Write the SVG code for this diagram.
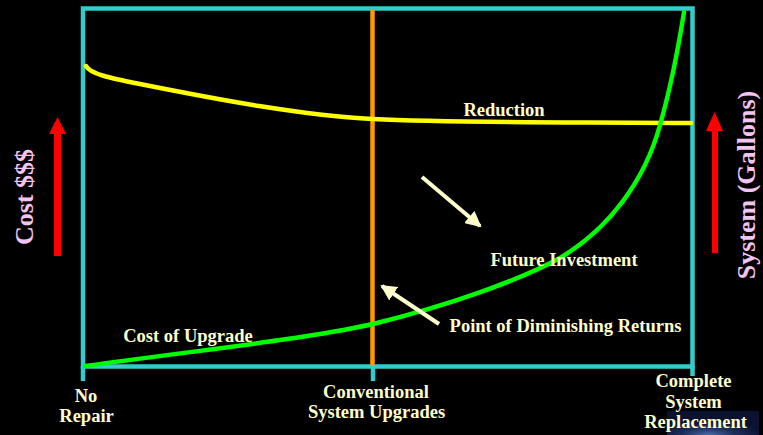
<svg xmlns="http://www.w3.org/2000/svg" width="763" height="435" viewBox="0 0 763 435">
<style>
.lbl{font-family:"Liberation Serif","Times New Roman",serif;font-weight:bold;font-size:18.5px;fill:#FFFFCC;text-anchor:middle}
.axis{font-family:"Liberation Serif","Times New Roman",serif;font-weight:bold;font-size:26px;fill:#F2C4F2;text-anchor:middle}
.frame{fill:none;stroke:#33CCCC;stroke-width:4.5}
.curve{fill:none;stroke-width:4.5;stroke-linecap:round}
.ptr{stroke:#FFFFCC;stroke-width:4;fill:none}
</style>
<defs>
<marker id="ah" markerUnits="userSpaceOnUse" markerWidth="16" markerHeight="16" refX="14" refY="8" orient="auto">
<path d="M0,0 L16,8 L0,16 Z" fill="#FFFFCC"/>
</marker>
<radialGradient id="glow" cx="0.45" cy="1" r="0.6">
<stop offset="0" stop-color="#4a6aa8"/>
<stop offset="0.5" stop-color="#1c2c5a"/>
<stop offset="1" stop-color="#0a1230"/>
</radialGradient>
</defs>
<rect width="763" height="435" fill="#000"/>
<rect x="667" y="411" width="92" height="24" fill="url(#glow)"/>
<g id="frame">
<rect class="frame" x="83" y="8.5" width="609.5" height="358"/>
<line class="frame" x1="83" y1="366" x2="83" y2="381"/>
<line class="frame" x1="373" y1="366" x2="373" y2="381"/>
<line class="frame" x1="692.5" y1="366" x2="692.5" y2="376"/>
</g>
<g id="conventional-line">
<line x1="372.5" y1="10" x2="372.5" y2="366" stroke="#FF9900" stroke-width="4.5"/>
</g>
<g id="reduction-curve">
<path class="curve" stroke="#FFFF00" d="M86,66 C90,74 110,78 140,84 C220,100 300,115 373,119 C450,123 550,122 691,123"/>
</g>
<g id="upgrade-curve">
<path class="curve" stroke="#00FF00" d="M85,366 C200,350 300,340 373,324 C450,305 520,280 560,258 C610,228 645,180 660,125 C670,90 678,50 684,12"/>
</g>
<g id="cost-axis">
<path d="M54,256 L54,134 L49,134 L57.5,117 L66,134 L61,134 L61,256 Z" fill="#FF0000"/>
<text class="axis" transform="translate(33,197) rotate(-90)">Cost $$$</text>
</g>
<g id="system-axis">
<path d="M712,253 L712,131 L706,131 L714.5,112 L723,131 L718,131 L718,253 Z" fill="#FF0000"/>
<text class="axis" transform="translate(755,185) rotate(-90)">System (Gallons)</text>
</g>
<g id="connectors">
<line class="ptr" x1="422" y1="177" x2="480" y2="226" marker-end="url(#ah)"/>
<line class="ptr" x1="439" y1="324" x2="382" y2="286" marker-end="url(#ah)"/>
</g>
<g id="labels">
<text class="lbl" x="504" y="116">Reduction</text>
<text class="lbl" x="564" y="266">Future Investment</text>
<text class="lbl" x="565.5" y="332">Point of Diminishing Returns</text>
<text class="lbl" x="188" y="342">Cost of Upgrade</text>
</g>
<g id="tick-labels">
<text class="lbl" x="86" y="402">No</text>
<text class="lbl" x="86.5" y="422">Repair</text>
<text class="lbl" x="376" y="398">Conventional</text>
<text class="lbl" x="376.5" y="418">System Upgrades</text>
<text class="lbl" x="693.5" y="387">Complete</text>
<text class="lbl" x="693.5" y="408">System</text>
<text class="lbl" x="695.5" y="428">Replacement</text>
</g>
</svg>
